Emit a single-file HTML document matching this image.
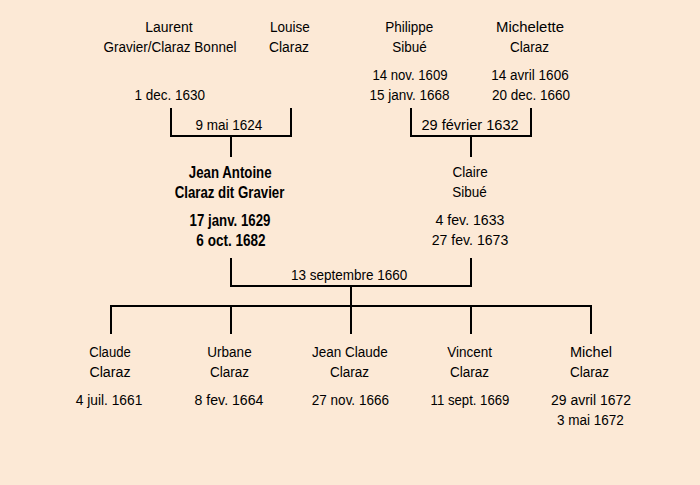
<!DOCTYPE html>
<html><head><meta charset="utf-8"><style>
html,body{margin:0;padding:0;}
body{width:700px;height:485px;background:#FCE9D6;position:relative;overflow:hidden;font-family:"Liberation Sans",sans-serif;color:#000;}
.t{position:absolute;width:300px;text-align:center;line-height:20px;height:20px;white-space:nowrap;transform-origin:50% 14.5px;}
#w{position:absolute;left:0;top:0;width:700px;height:485px;opacity:0.999;}
svg{position:absolute;left:0;top:0;}
</style></head><body>
<div id="w"><svg width="700" height="485" fill="#000"><rect x="170" y="108" width="2" height="29"/><rect x="290" y="108" width="2" height="29"/><rect x="170" y="135" width="122" height="2"/><rect x="230" y="137" width="2" height="20"/><rect x="410" y="108" width="2" height="29"/><rect x="530" y="108" width="2" height="29"/><rect x="410" y="135" width="122" height="2"/><rect x="470" y="137" width="2" height="20"/><rect x="230" y="258" width="2" height="29"/><rect x="470" y="258" width="2" height="29"/><rect x="230" y="285" width="242" height="2"/><rect x="350" y="287" width="2" height="18"/><rect x="110" y="305" width="482" height="2"/><rect x="110" y="307" width="2" height="27"/><rect x="230" y="307" width="2" height="27"/><rect x="350" y="307" width="2" height="27"/><rect x="470" y="307" width="2" height="27"/><rect x="590" y="307" width="2" height="27"/></svg>
<div class="t" style="left:19.00px;top:17.50px;font-size:13.5px;transform:scale(1.033,1.1);">Laurent</div>
<div class="t" style="left:20.00px;top:37.50px;font-size:13.5px;transform:scale(1.000,1.1);">Gravier/Claraz Bonnel</div>
<div class="t" style="left:19.70px;top:85.50px;font-size:13.5px;transform:scale(1.000,1.1);">1 dec. 1630</div>
<div class="t" style="left:139.80px;top:17.50px;font-size:13.5px;transform:scale(1.000,1.1);">Louise</div>
<div class="t" style="left:139.30px;top:37.50px;font-size:13.5px;transform:scale(1.027,1.1);">Claraz</div>
<div class="t" style="left:259.30px;top:17.50px;font-size:13.5px;transform:scale(1.000,1.1);">Philippe</div>
<div class="t" style="left:259.50px;top:37.50px;font-size:13.5px;transform:scale(1.000,1.1);">Sibué</div>
<div class="t" style="left:260.20px;top:65.50px;font-size:13.5px;transform:scale(0.976,1.1);">14 nov. 1609</div>
<div class="t" style="left:259.60px;top:85.50px;font-size:13.5px;transform:scale(1.000,1.1);">15 janv. 1668</div>
<div class="t" style="left:379.60px;top:17.50px;font-size:13.5px;transform:scale(1.103,1.1);">Michelette</div>
<div class="t" style="left:379.60px;top:37.50px;font-size:13.5px;transform:scale(1.000,1.1);">Claraz</div>
<div class="t" style="left:380.00px;top:65.50px;font-size:13.5px;transform:scale(1.000,1.1);">14 avril 1606</div>
<div class="t" style="left:381.10px;top:85.50px;font-size:13.5px;transform:scale(1.000,1.1);">20 dec. 1660</div>
<div class="t" style="left:78.80px;top:115.50px;font-size:13.5px;transform:scale(1.000,1.1);">9 mai 1624</div>
<div class="t" style="left:320.30px;top:115.50px;font-size:13.5px;transform:scale(1.079,1.1);">29 février 1632</div>
<div class="t" style="left:80.20px;top:163.50px;font-size:13.25px;font-weight:bold;transform:scale(1.000,1.18);">Jean Antoine</div>
<div class="t" style="left:79.50px;top:183.50px;font-size:13.25px;font-weight:bold;transform:scale(1.000,1.18);">Claraz dit Gravier</div>
<div class="t" style="left:80.00px;top:211.50px;font-size:13.25px;font-weight:bold;transform:scale(1.000,1.18);">17 janv. 1629</div>
<div class="t" style="left:80.60px;top:231.50px;font-size:13.25px;font-weight:bold;transform:scale(1.022,1.18);">6 oct. 1682</div>
<div class="t" style="left:320.10px;top:162.50px;font-size:13.5px;transform:scale(1.000,1.1);">Claire</div>
<div class="t" style="left:319.50px;top:182.50px;font-size:13.5px;transform:scale(1.000,1.1);">Sibué</div>
<div class="t" style="left:320.20px;top:210.50px;font-size:13.5px;transform:scale(1.048,1.1);">4 fev. 1633</div>
<div class="t" style="left:320.40px;top:230.50px;font-size:13.5px;transform:scale(1.044,1.1);">27 fev. 1673</div>
<div class="t" style="left:199.10px;top:265.50px;font-size:13.5px;transform:scale(1.000,1.1);">13 septembre 1660</div>
<div class="t" style="left:-40.20px;top:342.50px;font-size:13.5px;transform:scale(0.971,1.1);">Claude</div>
<div class="t" style="left:-40.50px;top:362.50px;font-size:13.5px;transform:scale(1.054,1.1);">Claraz</div>
<div class="t" style="left:-41.00px;top:390.50px;font-size:13.5px;transform:scale(1.020,1.1);">4 juil. 1661</div>
<div class="t" style="left:79.50px;top:342.50px;font-size:13.5px;transform:scale(1.000,1.1);">Urbane</div>
<div class="t" style="left:79.60px;top:362.50px;font-size:13.5px;transform:scale(1.000,1.1);">Claraz</div>
<div class="t" style="left:79.40px;top:390.50px;font-size:13.5px;transform:scale(1.048,1.1);">8 fev. 1664</div>
<div class="t" style="left:199.90px;top:342.50px;font-size:13.5px;transform:scale(1.000,1.1);">Jean Claude</div>
<div class="t" style="left:199.60px;top:362.50px;font-size:13.5px;transform:scale(1.000,1.1);">Claraz</div>
<div class="t" style="left:200.40px;top:390.50px;font-size:13.5px;transform:scale(1.000,1.1);">27 nov. 1666</div>
<div class="t" style="left:319.70px;top:342.50px;font-size:13.5px;transform:scale(1.000,1.1);">Vincent</div>
<div class="t" style="left:319.60px;top:362.50px;font-size:13.5px;transform:scale(1.000,1.1);">Claraz</div>
<div class="t" style="left:320.10px;top:390.50px;font-size:13.5px;transform:scale(0.976,1.1);">11 sept. 1669</div>
<div class="t" style="left:440.60px;top:342.50px;font-size:13.5px;transform:scale(1.078,1.1);">Michel</div>
<div class="t" style="left:439.60px;top:362.50px;font-size:13.5px;transform:scale(1.000,1.1);">Claraz</div>
<div class="t" style="left:440.50px;top:390.50px;font-size:13.5px;transform:scale(1.036,1.1);">29 avril 1672</div>
<div class="t" style="left:440.40px;top:410.50px;font-size:13.5px;transform:scale(1.000,1.1);">3 mai 1672</div></div>
</body></html>
